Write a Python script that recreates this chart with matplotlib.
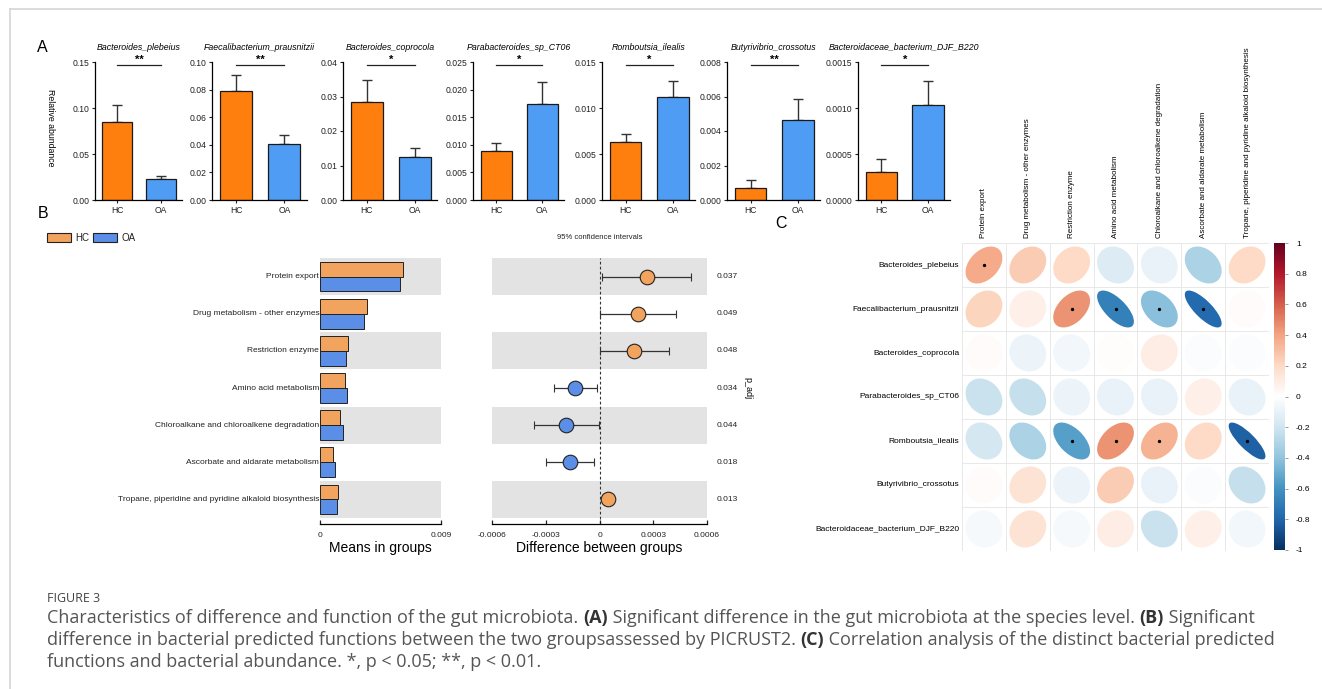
import numpy as np
import matplotlib
matplotlib.use("Agg")
import matplotlib.pyplot as plt
from matplotlib.patches import Ellipse, Rectangle
from matplotlib.colors import LinearSegmentedColormap, Normalize
from matplotlib.cm import ScalarMappable
from matplotlib.lines import Line2D

W, H = 1322, 689
plt.rcParams['font.family'] = ['Liberation Sans', 'DejaVu Sans']

# ---- A: relative abundance of the differential species
species = ['Bacteroides_plebeius', 'Faecalibacterium_prausnitzii', 'Bacteroides_coprocola',
           'Parabacteroides_sp_CT06', 'Romboutsia_ilealis', 'Butyrivibrio_crossotus',
           'Bacteroidaceae_bacterium_DJF_B220']
hc_mean = [0.0853, 0.0788, 0.0283, 0.0088, 0.0063, 0.0007, 0.0003]
hc_sem = [0.0182, 0.0119, 0.0065, 0.0016, 0.0009, 0.00047, 0.000146]
oa_mean = [0.0225, 0.0406, 0.0126, 0.0174, 0.0112, 0.00462, 0.00103]
oa_sem = [0.0033, 0.0064, 0.0025, 0.0039, 0.00175, 0.00125, 0.00026]
y_max = [0.15, 0.10, 0.04, 0.025, 0.015, 0.008, 0.0015]
y_step = [0.05, 0.02, 0.01, 0.005, 0.005, 0.002, 0.0005]
y_dec = [2, 2, 2, 3, 3, 3, 4]
signif = ['**', '**', '*', '*', '*', '**', '*']
groups = ['HC', 'OA']

# ---- B: STAMP style comparison of predicted functions
functions = ['Protein export', 'Drug metabolism - other enzymes', 'Restriction enzyme',
             'Amino acid metabolism', 'Chloroalkane and chloroalkene degradation',
             'Ascorbate and aldarate metabolism',
             'Tropane, piperidine and pyridine alkaloid biosynthesis']
hc_func = [0.00621, 0.00353, 0.00211, 0.00186, 0.00152, 0.00097, 0.00132]
oa_func = [0.00592, 0.00330, 0.00194, 0.00204, 0.00169, 0.00114, 0.00127]
diff_est = [0.000263, 0.000213, 0.000194, -0.000135, -0.000187, -0.000163, 0.0000475]
ci_low = [0.000016, 0.0, 0.000003, -0.000254, -0.000366, -0.000300, 0.000035]
ci_high = [0.000509, 0.000427, 0.000388, -0.000012, -0.000003, -0.000030, 0.000060]
p_adj = ['0.037', '0.049', '0.048', '0.034', '0.044', '0.018', '0.013']

# ---- C: spearman correlation, species (rows) x functions (cols)
corr = np.array([
    [0.38, 0.25, 0.20, -0.15, -0.10, -0.32, 0.20],
    [0.22, 0.08, 0.45, -0.68, -0.42, -0.78, 0.02],
    [0.02, -0.08, -0.06, 0.01, 0.10, -0.02, -0.02],
    [-0.22, -0.24, -0.08, -0.10, -0.10, 0.08, -0.10],
    [-0.18, -0.32, -0.55, 0.45, 0.35, 0.20, -0.82],
    [0.02, 0.15, -0.08, 0.25, -0.10, -0.02, -0.24],
    [-0.04, 0.15, -0.04, 0.10, -0.22, 0.08, -0.06],
])
corr_sig = np.array([
    [1, 0, 0, 0, 0, 0, 0],
    [0, 0, 1, 1, 1, 1, 0],
    [0, 0, 0, 0, 0, 0, 0],
    [0, 0, 0, 0, 0, 0, 0],
    [0, 0, 1, 1, 1, 0, 1],
    [0, 0, 0, 0, 0, 0, 0],
    [0, 0, 0, 0, 0, 0, 0],
], dtype=bool)

HC_COL, OA_COL = '#FF7F0E', '#4F9CF4'
HC_FUNC, OA_FUNC = '#F2A45E', '#5B8EE6'
BAND = '#E3E3E3'


def px(x0, y0, x1, y1):
    return [x0 / W, 1 - y1 / H, (x1 - x0) / W, (y1 - y0) / H]


def ftext(x, y, s, **kw):
    return fig.text(x / W, 1 - y / H, s, **kw)


fig = plt.figure(figsize=(W / 100, H / 100), dpi=100)

# page frame
fig.add_artist(Line2D([10 / W, 1], [1 - 9 / H, 1 - 9 / H], color='#D5D5D5', lw=1.2))
fig.add_artist(Line2D([10 / W, 10 / W], [0, 1 - 9 / H], color='#D5D5D5', lw=1.2))

# ================= A
a_pos = [(95, 182), (212, 307), (343, 437), (473, 564), (602, 695), (727, 820), (858, 950)]
for i, (x0, x1) in enumerate(a_pos):
    ax = fig.add_axes(px(x0, 62, x1, 200))
    ax.bar([0, 1], [hc_mean[i], oa_mean[i]], width=0.67, color=[HC_COL, OA_COL],
           edgecolor='#1a1a1a', lw=0.9, zorder=2)
    ax.errorbar([0, 1], [hc_mean[i], oa_mean[i]],
                yerr=[[0, 0], [hc_sem[i], oa_sem[i]]], fmt='none',
                ecolor='#333333', elinewidth=1.0, capsize=3.5, capthick=1.0, zorder=1)
    ax.set_xlim(-0.5, 1.47)
    ax.set_ylim(0, y_max[i])
    ticks = np.arange(0, y_max[i] + y_step[i] / 2, y_step[i])
    ax.set_yticks(ticks)
    ax.set_yticklabels([f'{t:.{y_dec[i]}f}' for t in ticks])
    ax.set_xticks([0, 1])
    ax.set_xticklabels(groups)
    ax.tick_params(labelsize=6.2, length=2.5, width=0.8, pad=1.5, colors='#222222')
    for s in ['top', 'right']:
        ax.spines[s].set_visible(False)
    for s in ['left', 'bottom']:
        ax.spines[s].set_linewidth(0.9)
    ax.set_title(species[i], fontsize=6.3, style='italic', pad=9)
    yb = 0.975 * y_max[i]
    ax.plot([0, 1], [yb, yb], color='#222222', lw=0.9, clip_on=False)
    ax.text(0.5, yb * 1.005, signif[i], ha='center', va='bottom', fontsize=8,
            fontweight='bold', clip_on=False)

ftext(50, 128, 'Relative abundance', rotation=270, ha='center', va='center', fontsize=6.3)
ftext(42, 47, 'A', fontsize=11.5, ha='center', va='center')
ftext(43, 213, 'B', fontsize=11.5, ha='center', va='center')
ftext(781, 223, 'C', fontsize=11.5, ha='center', va='center')

# ================= B
n = len(functions)
rows = np.arange(n)

axm = fig.add_axes(px(320, 258, 441, 524))
axd = fig.add_axes(px(492, 258, 707, 524))
for ax in (axm, axd):
    ax.set_ylim(n - 0.34, -0.5)
    for r in rows[::2]:
        ax.axhspan(r - 0.5, r + 0.5, color=BAND, lw=0, zorder=0)
    for s in ['top', 'right', 'left']:
        ax.spines[s].set_visible(False)
    ax.spines['bottom'].set_linewidth(0.9)
    ax.set_yticks([])
    ax.tick_params(axis='x', direction='in', length=3, width=0.9, labelsize=6, pad=6,
                   colors='#222222')

axm.barh(rows - 0.2, hc_func, height=0.4, color=HC_FUNC, edgecolor='#222222', lw=0.7, zorder=2)
axm.barh(rows + 0.2, oa_func, height=0.4, color=OA_FUNC, edgecolor='#222222', lw=0.7, zorder=2)
axm.set_xlim(0, 0.009)
axm.set_xticks([0, 0.009])
axm.set_xticklabels(['0', '0.009'])
axm.set_xlabel('Means in groups', fontsize=10, labelpad=1)
for r, name in zip(rows, functions):
    axm.text(-0.00006, r, name, ha='right', va='center', fontsize=6, color='#222222')

axd.axvline(0, color='#333333', lw=0.8, ls=(0, (2.5, 2)), zorder=1)
for r in rows:
    c = HC_FUNC if diff_est[r] > 0 else OA_FUNC
    axd.errorbar(diff_est[r], r, xerr=[[diff_est[r] - ci_low[r]], [ci_high[r] - diff_est[r]]],
                 fmt='o', ms=10.5, mfc=c, mec='#222222', mew=0.8, ecolor='#333333',
                 elinewidth=0.9, capsize=3, capthick=0.9, zorder=3)
    axd.text(0.000655, r, p_adj[r], ha='left', va='center', fontsize=6, color='#222222',
             clip_on=False)
axd.set_xlim(-0.0006, 0.0006)
axd.set_xticks([-0.0006, -0.0003, 0, 0.0003, 0.0006])
axd.set_xticklabels(['-0.0006', '-0.0003', '0', '0.0003', '0.0006'])
axd.set_xlabel('Difference between groups', fontsize=10, labelpad=1)
axd.set_title('95% confidence intervals', fontsize=5.5, pad=14, color='#222222')
ftext(748, 388, 'p_adj', rotation=270, ha='center', va='center', fontsize=6.5)

# legend for B
for (x0, lab, col) in [(47, 'HC', HC_FUNC), (93, 'OA', OA_FUNC)]:
    fig.add_artist(Rectangle((x0 / W, 1 - 242 / H), 24 / W, 9 / H, facecolor=col,
                             edgecolor='#222222', lw=0.8))
    ftext(x0 + 28, 238, lab, fontsize=7, va='center', ha='left', color='#222222')

# ================= C
cmap = LinearSegmentedColormap.from_list('corr', [
    '#053061', '#2166AC', '#4393C3', '#92C5DE', '#D1E5F0', '#FFFFFF',
    '#FDDBC7', '#F4A582', '#D6604D', '#B2182B', '#67001F'])
norm = Normalize(-1, 1)

axc = fig.add_axes(px(962, 243, 1269, 551))
nr, nc = corr.shape
axc.set_xlim(0, nc)
axc.set_ylim(nr, 0)
axc.axis('off')
for k in range(nc + 1):
    axc.plot([k, k], [0, nr], color='#E8E8E8', lw=0.7, zorder=0)
for k in range(nr + 1):
    axc.plot([0, nc], [k, k], color='#E8E8E8', lw=0.7, zorder=0)
s = 0.42
for i in range(nr):
    for j in range(nc):
        r = corr[i, j]
        # y axis is inverted, so positive correlation leans towards upper right
        e = Ellipse((j + 0.5, i + 0.5), 2 * s * np.sqrt(1 + r), 2 * s * np.sqrt(1 - r),
                    angle=-45, facecolor=cmap(norm(r)), edgecolor='none', zorder=2)
        axc.add_patch(e)
        if corr_sig[i, j]:
            axc.plot(j + 0.5, i + 0.5, 'o', ms=1.4, color='black', zorder=3)
for i, name in enumerate(species):
    axc.text(-0.06, i + 0.5, name, ha='right', va='center', fontsize=6)
for j, name in enumerate(functions):
    axc.text(j + 0.5, -0.12, name, rotation=90, ha='center', va='bottom', fontsize=5.8)

cax = fig.add_axes(px(1274, 243, 1285, 550))
cb = fig.colorbar(ScalarMappable(norm=norm, cmap=cmap), cax=cax)
cb.outline.set_visible(False)
cb.set_ticks(np.round(np.arange(-1, 1.01, 0.2), 1))
cb.set_ticklabels(['-1', '-0.8', '-0.6', '-0.4', '-0.2', '0', '0.2', '0.4', '0.6', '0.8', '1'])
cax.tick_params(labelsize=6, length=2, width=0.6, color='#888888', pad=6)

# ================= caption
cap_font = ['Open Sans', 'DejaVu Sans']
cap_col = '#555555'
ftext(47, 599, 'FIGURE 3', fontsize=9, family=cap_font, color='#444444', va='center')

renderer = fig.canvas.get_renderer()


def caption_line(y, parts, size=13):
    x = 47
    for txt, bold in parts:
        t = ftext(x, y, txt, fontsize=size, family=cap_font, va='center',
                  color='#333333' if bold else cap_col,
                  fontweight='bold' if bold else 'normal')
        x += t.get_window_extent(renderer).width


caption_line(618, [('Characteristics of difference and function of the gut microbiota. ', False),
                   ('(A)', True),
                   (' Significant difference in the gut microbiota at the species level. ', False),
                   ('(B)', True), (' Significant', False)])
caption_line(640, [('difference in bacterial predicted functions between the two groupsassessed by PICRUST2. ', False),
                   ('(C)', True),
                   (' Correlation analysis of the distinct bacterial predicted', False)])
caption_line(662, [('functions and bacterial abundance. *, p < 0.05; **, p < 0.01.', False)])

fig.savefig('out.png', dpi=100)
